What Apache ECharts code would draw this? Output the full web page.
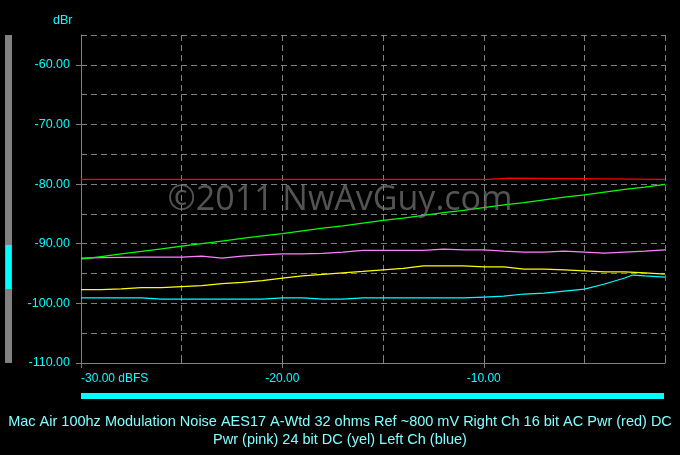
<!DOCTYPE html>
<html><head><meta charset="utf-8">
<script src="https://cdn.jsdelivr.net/npm/echarts@6/dist/echarts.min.js"></script>
<style>html,body{margin:0;padding:0;background:#000;}#c{width:680px;height:455px;}</style>
</head><body><div id="c"></div>
<script>
const titleText = "Mac Air 100hz Modulation Noise AES17 A-Wtd 32 ohms Ref ~800 mV Right Ch 16 bit AC Pwr (red) DC\nPwr (pink) 24 bit DC (yel) Left Ch (blue)";
const yLabelValues = [-110, -100, -90, -80, -70, -60];
const xLabelValues = [-30, -20, -10];
const xLabelTexts = ["-30.00 dBFS", "-20.00", "-10.00"];
const xs = [-30,-29,-28,-27,-26,-25,-24,-23,-22,-21,-20,-19,-18,-17,-16,-15,-14,-13,-12,-11,-10,-9,-8,-7,-6,-5,-4,-3,-2,-1];
const green = [-92.6,-92.15,-91.7,-91.3,-90.85,-90.4,-90.0,-89.55,-89.1,-88.7,-88.3,-87.85,-87.4,-87.0,-86.55,-86.1,-85.7,-85.25,-84.8,-84.4,-83.95,-83.5,-83.1,-82.65,-82.2,-81.8,-81.35,-80.9,-80.5,-80.05];
const pink = [-92.4,-92.35,-92.3,-92.25,-92.25,-92.25,-92.07,-92.4,-92.07,-91.85,-91.7,-91.7,-91.6,-91.4,-91.1,-91.1,-91.1,-91.1,-90.9,-91.05,-91.05,-91.24,-91.4,-91.4,-91.24,-91.4,-91.57,-91.4,-91.24,-91.05];
const yellow = [-97.71,-97.71,-97.55,-97.38,-97.38,-97.2,-97.04,-96.7,-96.5,-96.2,-95.76,-95.4,-95.15,-94.87,-94.65,-94.37,-94.13,-93.7,-93.7,-93.7,-93.9,-93.9,-94.24,-94.24,-94.4,-94.57,-94.74,-94.74,-94.9,-95.08];
const cyanX = [-30,-29,-28,-27,-26,-25,-24,-23,-22,-21,-20,-19,-18,-17,-16,-15,-14,-13,-12,-11,-10,-9,-8,-7,-6,-5,-4,-3,-2.6,-2,-1];
const cyan = [-99.1,-99.1,-99.1,-99.1,-99.27,-99.27,-99.27,-99.27,-99.27,-99.27,-99.1,-99.1,-99.27,-99.27,-99.1,-99.1,-99.1,-99.1,-99.1,-99.1,-98.94,-98.77,-98.43,-98.27,-97.93,-97.6,-96.75,-95.75,-95.25,-95.4,-95.6];
const redX = [-30,-9.75,-9.7,-8.75,-8.7,-1];
const red = [-79.2,-79.2,-79.0,-79.0,-79.2,-79.2];

const pairs = (x, y) => x.map((v, i) => [v, y[i]]);
const grey = '#808080';
const font = 'Liberation Sans, Arial, sans-serif';
const lineSeries = (name, x, y, color) => ({
  name, type: 'line', data: pairs(x, y), showSymbol: false, symbol: 'none',
  lineStyle: {color, width: 1.25}, animation: false, z: 3
});

const chart = echarts.init(document.getElementById('c'), null, {renderer: 'canvas'});
chart.setOption({
  backgroundColor: '#000',
  animation: false,
  title: {
    text: titleText, left: 'center', top: 408,
    textStyle: {color: '#80ffff', fontSize: 14.5, fontWeight: 'normal', lineHeight: 18, fontFamily: font}
  },
  grid: {left: 81, right: 15, top: 35, bottom: 92, containLabel: false},
  xAxis: [{
    type: 'value', min: -30, max: -1, interval: 5,
    axisLine: {show: false}, axisTick: {show: true, inside: true, length: 3, lineStyle: {color: grey}},
    axisLabel: {show: false},
    splitLine: {show: true, lineStyle: {color: grey, type: [6, 4], width: 1}}
  }, {
    type: 'value', min: -30, max: -1, position: 'bottom',
    axisLine: {show: true, lineStyle: {color: grey, width: 1}},
    axisTick: {show: true, length: 5, customValues: xLabelValues, lineStyle: {color: grey}},
    axisLabel: {
      show: true, customValues: xLabelValues, margin: 10,
      formatter: v => { const i = xLabelValues.indexOf(v); return i >= 0 ? xLabelTexts[i] : ''; },
      color: '#00ffff', fontSize: 12, fontFamily: font, alignMinLabel: 'left'
    },
    splitLine: {show: false}
  }],
  yAxis: [{
    type: 'value', min: -110, max: -55, interval: 5,
    axisLine: {show: false}, axisTick: {show: false}, axisLabel: {show: false},
    splitLine: {show: true, lineStyle: {color: grey, type: [6, 4], width: 1}}
  }, {
    type: 'value', min: -110, max: -55, position: 'left',
    axisLine: {show: true, lineStyle: {color: grey, width: 1}},
    axisTick: {show: true, length: 5, customValues: yLabelValues, lineStyle: {color: grey}},
    axisLabel: {
      show: true, customValues: yLabelValues, margin: 11,
      formatter: v => v.toFixed(2),
      color: '#00ffff', fontSize: 12.5, fontFamily: font
    },
    splitLine: {show: false}
  }],
  series: [
    lineSeries('AC Pwr (red)', redX, red, '#ff0000'),
    lineSeries('DC Pwr (pink)', xs, pink, '#ff80ff'),
    lineSeries('Green', xs, green, '#00ff00'),
    lineSeries('24 bit DC (yel)', xs, yellow, '#ffff00'),
    lineSeries('Left Ch (blue)', cyanX, cyan, '#00ffff')
  ],
  graphic: [
    {type: 'text', left: 53, top: 14, style: {text: 'dBr', fill: '#00ffff', font: '12.5px ' + font}},
    {type: 'rect', shape: {x: 5, y: 35, width: 7, height: 328}, style: {fill: '#808080'}},
    {type: 'rect', shape: {x: 5.5, y: 245, width: 6, height: 44}, style: {fill: '#00ffff'}},
    {type: 'rect', shape: {x: 81, y: 393, width: 583, height: 6}, style: {fill: '#00ffff'}},
    {type: 'text', x: 340, y: 200, z: 100,
      style: {text: '\u00a92011 NwAvGuy.com', fill: 'rgba(120,120,120,0.7)', font: '34px Open Sans, sans-serif', textAlign: 'center', textVerticalAlign: 'middle'}}
  ]
});
</script></body></html>
